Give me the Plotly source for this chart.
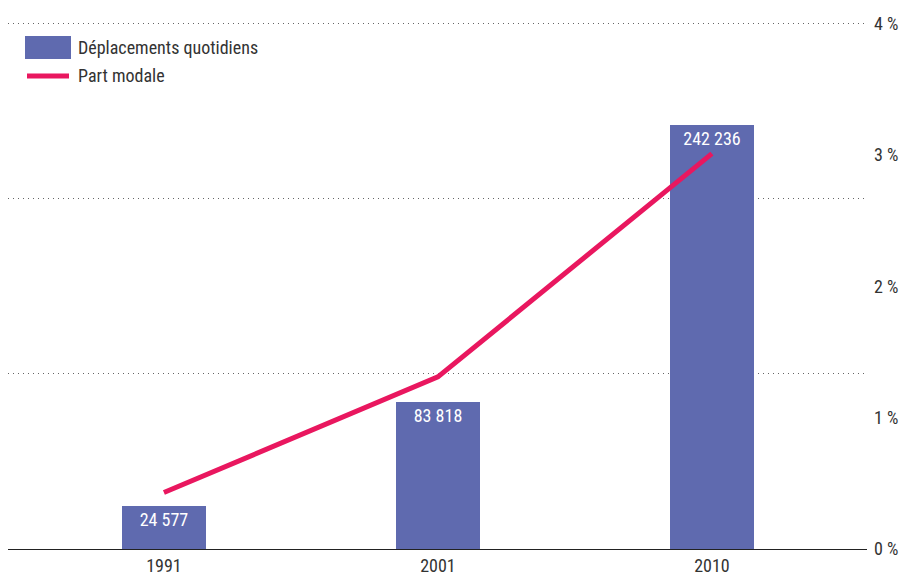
import plotly.graph_objects as go

years = ["1991", "2001", "2010"]
deplacements = [24577, 83818, 242236]
deplacements_labels = ["24 577", "83 818", "242 236"]
part_modale = [0.43, 1.31, 3.01]
pct_ticks = [0, 1, 2, 3, 4]
pct_labels = ["0 %", "1 %", "2 %", "3 %", "4 %"]
legend_labels = ["Déplacements quotidiens", "Part modale"]

FONT = "Roboto Condensed, Roboto, sans-serif"
FS = 18
BAR_COLOR = "#5F6AAF"
LINE_COLOR = "#E9175F"
TEXT_COLOR = "#333333"

# plot area in pixels
L, R, T, B = 8, 867, 22, 549
W, H = R - L, B - T
def px(x):
    return (x - L) / W
def py(y):
    return (B - y) / H

fig = go.Figure()
fig.add_trace(go.Bar(
    x=years, y=deplacements, name=legend_labels[0],
    marker=dict(color=BAR_COLOR, line=dict(width=0)),
    width=0.307,
    text=deplacements_labels, textposition="inside", insidetextanchor="end",
    textfont=dict(color="white", size=FS, family=FONT),
    textangle=0, cliponaxis=False, showlegend=False,
))
fig.add_trace(go.Scatter(
    x=years, y=part_modale, name=legend_labels[1], yaxis="y2",
    mode="lines", line=dict(color=LINE_COLOR, width=5), showlegend=False,
))

# manual legend
fig.add_shape(type="rect", xref="paper", yref="paper",
              x0=px(25), x1=px(71), y0=py(59), y1=py(36),
              fillcolor=BAR_COLOR, line=dict(width=0))
fig.add_shape(type="line", xref="paper", yref="paper",
              x0=px(27), x1=px(69), y0=py(76), y1=py(76),
              line=dict(color=LINE_COLOR, width=5))
fig.add_annotation(xref="paper", yref="paper", x=px(76), y=py(47.5),
                   xanchor="left", yanchor="middle", showarrow=False,
                   text=legend_labels[0], font=dict(size=FS, color=TEXT_COLOR, family=FONT))
fig.add_annotation(xref="paper", yref="paper", x=px(76), y=py(76),
                   xanchor="left", yanchor="middle", showarrow=False,
                   text=legend_labels[1], font=dict(size=FS, color=TEXT_COLOR, family=FONT))

fig.update_layout(
    width=901, height=575,
    margin=dict(l=L, r=901 - R, t=T, b=575 - B, autoexpand=False),
    paper_bgcolor="white", plot_bgcolor="white",
    font=dict(family=FONT, size=FS, color=TEXT_COLOR),
    showlegend=False,
    bargap=0,
    xaxis=dict(type="category", range=[-0.569, 2.566], showgrid=False,
               showline=True, linecolor="#222222", linewidth=1.2,
               ticks="", tickfont=dict(size=FS, color=TEXT_COLOR), automargin=False),
    yaxis=dict(range=[0, 300000 * 1.003], tickvals=[0, 100000, 200000, 300000],
               showticklabels=False, showgrid=True, gridcolor="#666666",
               griddash="1px,4px", gridwidth=1, zeroline=False, showline=False,
               automargin=False),
    yaxis2=dict(overlaying="y", side="right", range=[0, 4 * 1.003],
                tickvals=pct_ticks, ticktext=pct_labels, showgrid=False,
                zeroline=False, showline=False, ticks="", automargin=False,
                ticklabelstandoff=6,
                tickfont=dict(size=FS, color=TEXT_COLOR)),
)

fig.write_html("out.html")
